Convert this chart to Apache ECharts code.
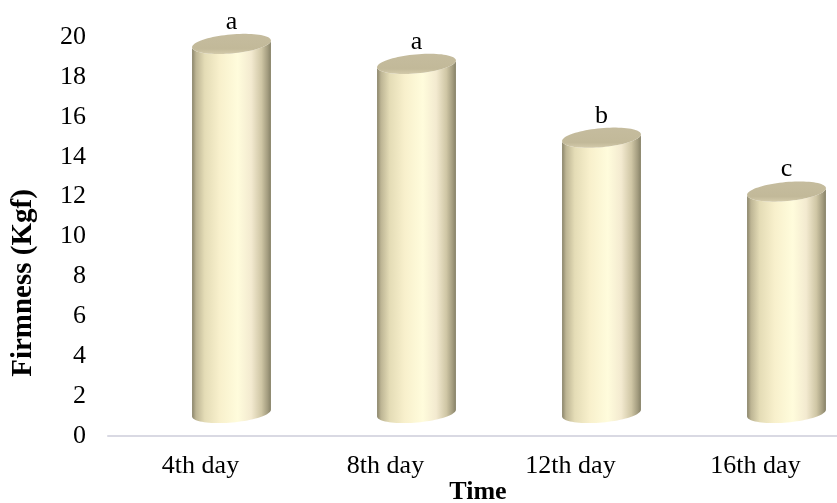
<!DOCTYPE html>
<html>
<head>
<meta charset="utf-8">
<script src="https://cdn.jsdelivr.net/npm/echarts@6/dist/echarts.min.js"></script>
<style>
  html, body { margin: 0; padding: 0; background: #ffffff; }
  #chart { width: 837px; height: 503px; }
</style>
</head>
<body>
<div id="chart"></div>
<script>
// Fruit firmness over storage time
const categories = ['4th day', '8th day', '12th day', '16th day'];
const firmness = [18.5, 17.5, 13.8, 11.1];
const letters = ['a', 'a', 'b', 'c'];
const yMin = 0;
const yMax = 20;
const yStep = 2;

const SERIF = '"Liberation Serif", "Times New Roman", serif';

// oblique projection of the bar row behind the front floor edge
const DEPTH_DX = 31;
const DEPTH_DY = -23;
const TILT = -0.09;          // ellipse tilt (rad)
const RING_RY = 9.5;         // ellipse half-height

function ellPt(cx, cy, a, b, t) {
  const x = a * Math.cos(t), y = b * Math.sin(t);
  return [cx + x * Math.cos(TILT) - y * Math.sin(TILT),
          cy + x * Math.sin(TILT) + y * Math.cos(TILT)];
}

function arc(cx, cy, a, b, t0, t1, n) {
  const pts = [];
  for (let k = 0; k <= n; k++) {
    pts.push(ellPt(cx, cy, a, b, t0 + (t1 - t0) * k / n));
  }
  return pts;
}

function renderCylinder(params, api) {
  const i = api.value(0);
  const v = api.value(1);
  const top = api.coord([i, v]);
  const base = api.coord([i, yMin]);
  const a = api.size([1, 0])[0] * 0.214;
  const cx = top[0] + DEPTH_DX;
  const yTop = top[1] + DEPTH_DY;
  const yBot = base[1] + DEPTH_DY;

  const body = arc(cx, yBot, a, RING_RY, Math.PI, 0, 40)
    .concat(arc(cx, yTop, a, RING_RY, 0, Math.PI, 40));
  const cap = arc(cx, yTop, a, RING_RY, 0, Math.PI * 2, 80);

  return {
    type: 'group',
    children: [
      {
        type: 'polygon',
        shape: { points: body },
        style: {
          fill: {
            type: 'linear', x: 0, y: 0, x2: 1, y2: 0,
            colorStops: [
              { offset: 0, color: '#8a846a' },
              { offset: 0.05, color: '#bdb594' },
              { offset: 0.16, color: '#e4dcb6' },
              { offset: 0.35, color: '#f8f0cc' },
              { offset: 0.58, color: '#fffcdc' },
              { offset: 0.75, color: '#f3ead0' },
              { offset: 0.88, color: '#cfc6a5' },
              { offset: 0.96, color: '#a29b7e' },
              { offset: 1, color: '#858066' }
            ]
          }
        }
      },
      {
        type: 'polygon',
        shape: { points: cap },
        style: {
          fill: {
            type: 'linear', x: 0, y: 0, x2: 0, y2: 1,
            colorStops: [
              { offset: 0, color: '#c5bc9e' },
              { offset: 0.75, color: '#c2b999' },
              { offset: 1, color: '#d4cbab' }
            ]
          }
        }
      },
      {
        type: 'text',
        style: {
          text: letters[i],
          x: cx,
          y: yTop - 22,
          font: '26px ' + SERIF,
          fill: '#000000',
          align: 'center',
          verticalAlign: 'middle'
        }
      }
    ]
  };
}

const chart = echarts.init(document.getElementById('chart'), null, { renderer: 'canvas' });

chart.setOption({
  animation: false,
  backgroundColor: '#ffffff',
  grid: {
    left: 108, top: 37, width: 740, height: 399,
    containLabel: false,
    outerBoundsMode: 'none'
  },
  xAxis: {
    type: 'category',
    data: categories,
    axisLine: { show: true, lineStyle: { color: '#d9d9e3', width: 2 } },
    axisTick: { show: false },
    axisLabel: { fontFamily: SERIF, fontSize: 26, color: '#000000', margin: 17 },
    splitLine: { show: false }
  },
  yAxis: {
    type: 'value',
    min: yMin,
    max: yMax,
    interval: yStep,
    axisLine: { show: false },
    axisTick: { show: false },
    splitLine: { show: false },
    axisLabel: { fontFamily: SERIF, fontSize: 26, color: '#000000', margin: 22 }
  },
  graphic: [
    {
      type: 'text',
      x: 24,
      y: 283,
      rotation: Math.PI / 2,
      style: {
        text: 'Firmness (Kgf)',
        font: 'bold 29px ' + SERIF,
        fill: '#000000',
        align: 'center',
        verticalAlign: 'middle'
      }
    },
    {
      type: 'text',
      x: 478,
      y: 492,
      style: {
        text: 'Time',
        font: 'bold 26px ' + SERIF,
        fill: '#000000',
        align: 'center',
        verticalAlign: 'middle'
      }
    }
  ],
  series: [
    {
      type: 'custom',
      renderItem: renderCylinder,
      clip: false,
      encode: { x: 0, y: 1 },
      data: firmness.map((v, i) => [i, v])
    }
  ]
});
</script>
</body>
</html>
